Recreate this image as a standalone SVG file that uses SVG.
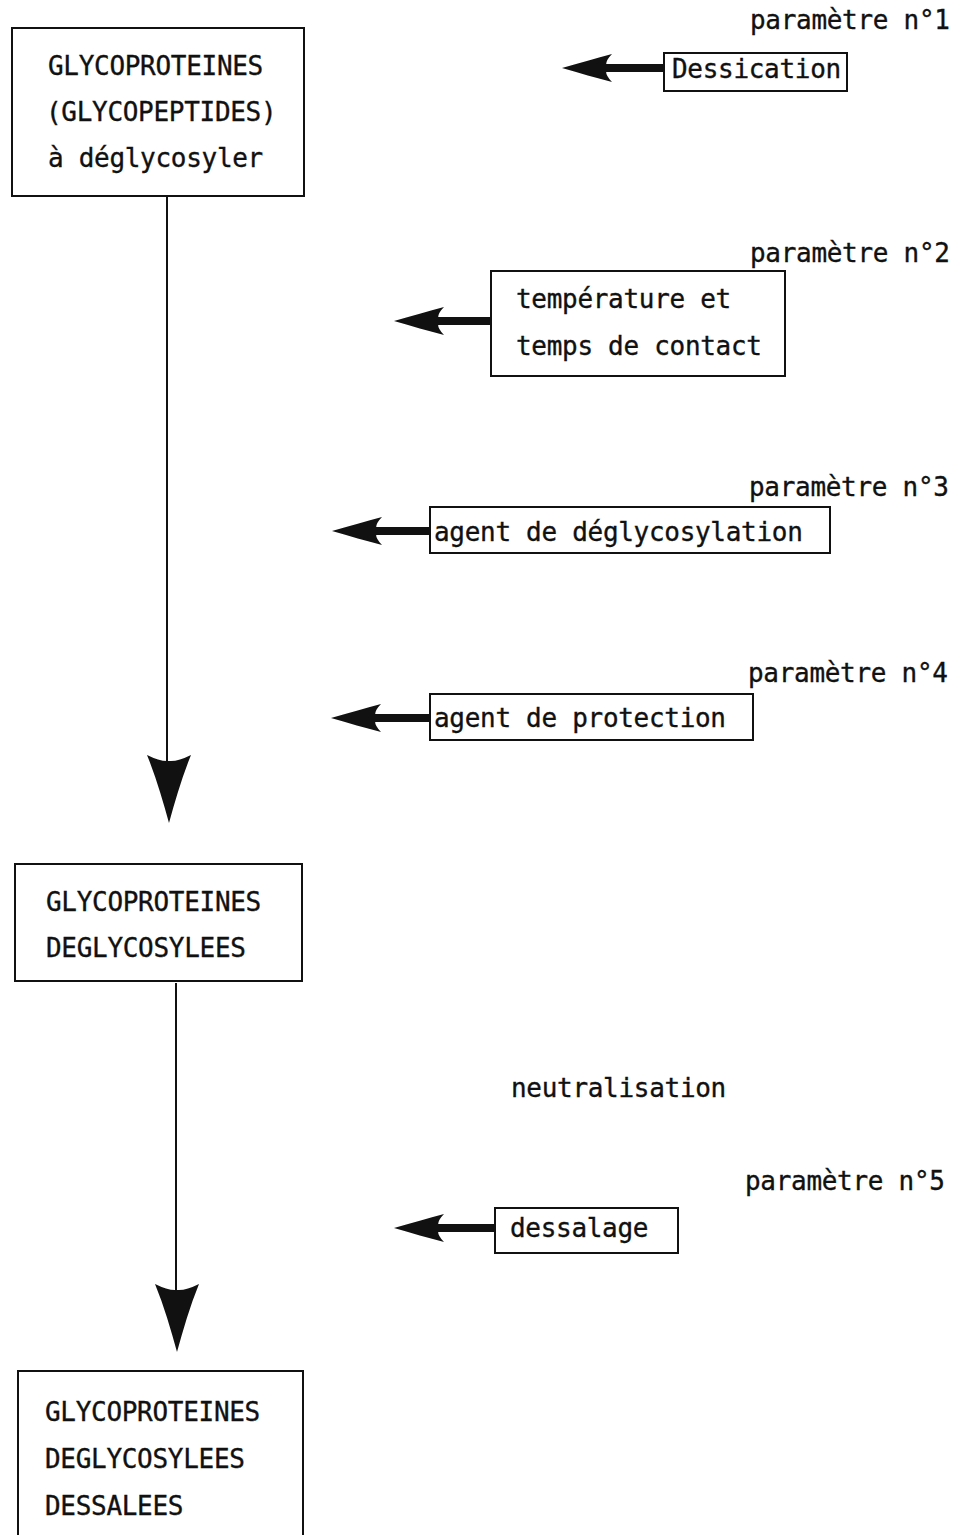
<svg xmlns="http://www.w3.org/2000/svg" xmlns:xlink="http://www.w3.org/1999/xlink" width="960" height="1535" viewBox="0 0 960 1535">
<style>
.t{font-family:"DejaVu Sans Mono","Liberation Mono",monospace;font-size:26px;fill:#111;stroke:#111;stroke-width:0.35;letter-spacing:-0.3px;}
.box{fill:none;stroke:#111;stroke-width:2;}
.ln{stroke:#111;stroke-width:2;fill:none;}
.shaft{stroke:#111;stroke-width:8;fill:none;}
.hd{fill:#111;}
</style>
<defs>
<path id="headL" d="M0,0 C18,-5 34,-10 50,-14 Q44,-8 44,-3 L44,3 Q44,8 50,14 C34,10 18,5 0,0 Z"/>
<path id="headD" d="M0,0 C-6,-22 -13,-46 -22,-68 Q-10,-62 -2,-62 L2,-62 Q10,-62 22,-68 C13,-46 6,-22 0,0 Z"/>
</defs>
<rect width="960" height="1535" fill="#fff"/>

<g id="connectors">
  <line class="ln" x1="167" y1="196" x2="167" y2="765"/>
  <use href="#headD" xlink:href="#headD" class="hd" x="169" y="823"/>
  <line class="ln" x1="176" y1="983" x2="176" y2="1292"/>
  <use href="#headD" xlink:href="#headD" class="hd" x="177" y="1352"/>
  <line class="shaft" x1="600" y1="68" x2="665" y2="68"/>
  <use href="#headL" xlink:href="#headL" class="hd" x="562" y="68"/>
  <line class="shaft" x1="436" y1="321" x2="492" y2="321"/>
  <use href="#headL" xlink:href="#headL" class="hd" x="394" y="321"/>
  <line class="shaft" x1="374" y1="531" x2="431" y2="531"/>
  <use href="#headL" xlink:href="#headL" class="hd" x="332" y="531"/>
  <line class="shaft" x1="373" y1="718" x2="431" y2="718"/>
  <use href="#headL" xlink:href="#headL" class="hd" x="331" y="718"/>
  <line class="shaft" x1="436" y1="1228" x2="496" y2="1228"/>
  <use href="#headL" xlink:href="#headL" class="hd" x="394" y="1228"/>
</g>

<g id="n-start">
  <rect class="box" x="12" y="28" width="292" height="168"/>
  <text class="t" x="48" y="75">GLYCOPROTEINES</text>
  <text class="t" x="46" y="121">(GLYCOPEPTIDES)</text>
  <text class="t" x="48" y="167">à déglycosyler</text>
</g>

<g id="n-deglyco">
  <rect class="box" x="15" y="864" width="287" height="117"/>
  <text class="t" x="46" y="911">GLYCOPROTEINES</text>
  <text class="t" x="46" y="957">DEGLYCOSYLEES</text>
</g>

<g id="n-final">
  <path class="box" d="M18,1540 L18,1371 L303,1371 L303,1540"/>
  <text class="t" x="45" y="1421">GLYCOPROTEINES</text>
  <text class="t" x="45" y="1468">DEGLYCOSYLEES</text>
  <text class="t" x="45" y="1515">DESSALEES</text>
</g>

<g id="p1">
  <text class="t" x="750" y="29">paramètre n°1</text>
  <rect class="box" x="664" y="53" width="183" height="38"/>
  <text class="t" x="672" y="78">Dessication</text>
</g>

<g id="p2">
  <text class="t" x="750" y="262">paramètre n°2</text>
  <rect class="box" x="491" y="271" width="294" height="105"/>
  <text class="t" x="516" y="308">température et</text>
  <text class="t" x="516" y="355">temps de contact</text>
</g>

<g id="p3">
  <text class="t" x="749" y="496">paramètre n°3</text>
  <rect class="box" x="430" y="507" width="400" height="46"/>
  <text class="t" x="434" y="541">agent de déglycosylation</text>
</g>

<g id="p4">
  <text class="t" x="748" y="682">paramètre n°4</text>
  <rect class="box" x="430" y="694" width="323" height="46"/>
  <text class="t" x="434" y="727">agent de protection</text>
</g>

<g id="neutral">
  <text class="t" x="511" y="1097">neutralisation</text>
</g>

<g id="p5">
  <text class="t" x="745" y="1190">paramètre n°5</text>
  <rect class="box" x="495" y="1208" width="183" height="45"/>
  <text class="t" x="510" y="1237">dessalage</text>
</g>
</svg>
